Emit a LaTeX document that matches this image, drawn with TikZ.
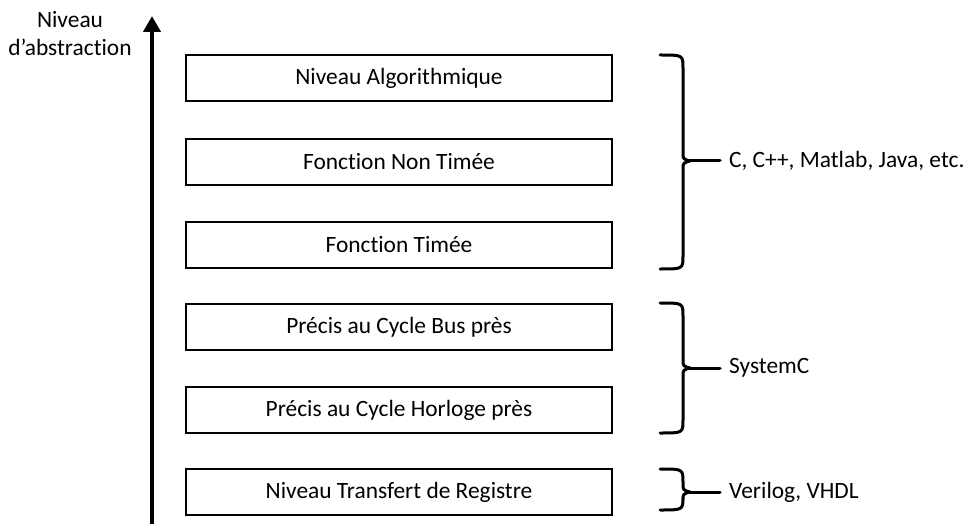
\documentclass[tikz,border=0pt]{standalone}
\usepackage{fontspec}
\setmainfont{Carlito}[Ligatures=NoCommon]
\usetikzlibrary{arrows.meta}
\begin{document}
\begin{tikzpicture}[x=1pt,y=-1pt,
  every node/.style={font=\fontsize{23.4}{28}\selectfont},
  level/.style={draw, line width=2pt, minimum width=426pt, minimum height=46pt, inner sep=0pt},
  lang/.style={anchor=west, inner sep=0pt},
  bracestyle/.style={line width=3pt, line cap=round, line join=round},
  axis/.style={line width=4pt, -{Triangle[width=17pt,length=16pt]}}]
\useasboundingbox (0,0) rectangle (967,524);
% axis
\coordinate (abot) at (152,524);
\coordinate (atop) at (152,16);
\draw[axis] (abot) -- (atop);
\node[align=center, inner sep=0pt] (axlabel) at (70,34) {Niveau\\d’abstraction};
% levels
\node[level] (l1) at (399,78) {Niveau Algorithmique};
\node[level] (l2) at (399,162) {Fonction Non Timée};
\node[level] (l3) at (399,245) {Fonction Timée};
\node[level] (l4) at (399,327) {Précis au Cycle Bus près};
\node[level] (l5) at (399,410) {Précis au Cycle Horloge près};
\node[level] (l6) at (399,492) {Niveau Transfert de Registre};
% languages
\node[lang] (g1) at (729,161) {C, C++, Matlab, Java, etc.};
\node[lang] (g2) at (729,368) {SystemC};
\node[lang] (g3) at (729,492) {Verilog, VHDL};
% braces
\foreach \t/\m/\b/\g in {55/161/269/g1, 303/368/433/g2, 469/492/510/g3} {
  \draw[bracestyle] (660,\t) .. controls (683,\t) and (683,\t) .. (683,\t+13)
    -- (683,\m-8) .. controls (683,\m-2) .. (690,\m)
    .. controls (683,\m+2) .. (683,\m+8)
    -- (683,\b-13) .. controls (683,\b) and (683,\b) .. (660,\b);
  \coordinate (cusp\g) at (690,\m);
  \draw[bracestyle] (cusp\g) -- ([xshift=-9pt]\g.west);
}
\end{tikzpicture}
\end{document}
